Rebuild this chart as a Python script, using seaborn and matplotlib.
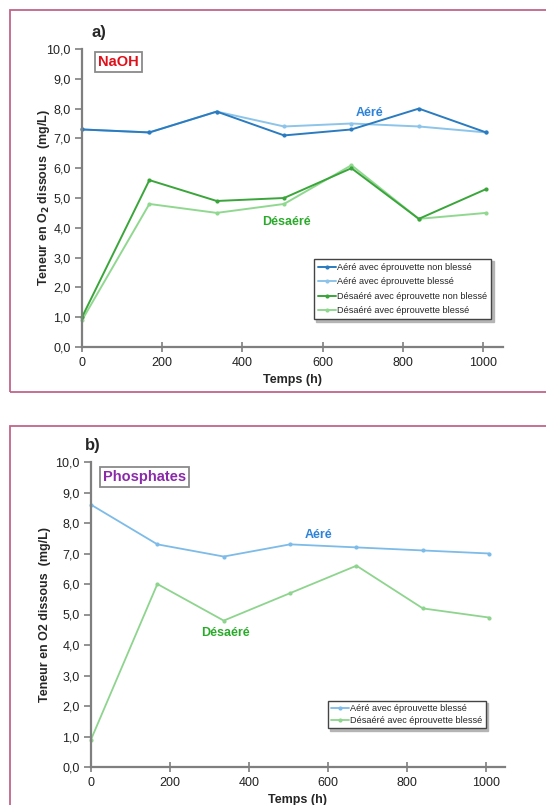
import matplotlib
matplotlib.use("Agg")
import matplotlib.pyplot as plt
import seaborn as sns
import pandas as pd
from matplotlib.patches import Rectangle
from matplotlib.ticker import FuncFormatter, MultipleLocator

sns.set_style("white")
plt.rcParams['font.family'] = ['Liberation Sans', 'DejaVu Sans']

temps = [0, 168, 336, 504, 672, 840, 1008]

# Panel a) NaOH
naoh_aere_non_blesse = [7.3, 7.2, 7.9, 7.1, 7.3, 8.0, 7.2]
naoh_aere_blesse = [7.3, 7.2, 7.9, 7.4, 7.5, 7.4, 7.2]
naoh_desaere_non_blesse = [1.0, 5.6, 4.9, 5.0, 6.0, 4.3, 5.3]
naoh_desaere_blesse = [0.9, 4.8, 4.5, 4.8, 6.1, 4.3, 4.5]

# Panel b) Phosphates
phos_aere_blesse = [8.6, 7.3, 6.9, 7.3, 7.2, 7.1, 7.0]
phos_desaere_blesse = [0.9, 6.0, 4.8, 5.7, 6.6, 5.2, 4.9]

labels_a = ["Aéré avec éprouvette non blessé", "Aéré avec éprouvette blessé",
            "Désaéré avec éprouvette non blessé", "Désaéré avec éprouvette blessé"]
labels_b = ["Aéré avec éprouvette blessé", "Désaéré avec éprouvette blessé"]

colors_a = ["#2a7bbf", "#8cc4ea", "#3aa53a", "#90d890"]
colors_b = ["#7dbbe8", "#8ed48e"]

W, H = 546, 805
fig = plt.figure(figsize=(W / 100, H / 100), dpi=100)

# panel frames
border = "#c0648a"
fig.patches.append(Rectangle((10 / W, 1 - 392 / H), 600 / W, (392 - 10) / H,
                             transform=fig.transFigure, fill=False,
                             edgecolor=border, linewidth=1.3))
fig.patches.append(Rectangle((10 / W, -0.05), 600 / W, 0.05 + (805 - 426) / H,
                             transform=fig.transFigure, fill=False,
                             edgecolor=border, linewidth=1.3))

ax1 = fig.add_axes([82 / W, 1 - 347 / H, (503 - 82) / W, (347 - 49) / H])
ax2 = fig.add_axes([91 / W, 1 - 767 / H, (505 - 91) / W, (767 - 462) / H])

df_a = pd.DataFrame({
    "Temps": temps * 4,
    "val": naoh_aere_non_blesse + naoh_aere_blesse + naoh_desaere_non_blesse + naoh_desaere_blesse,
    "serie": sum([[l] * len(temps) for l in labels_a], []),
})
df_b = pd.DataFrame({
    "Temps": temps * 2,
    "val": phos_aere_blesse + phos_desaere_blesse,
    "serie": sum([[l] * len(temps) for l in labels_b], []),
})

# draw light series first so the dark ones are on top, keep legend order
order_draw_a = [labels_a[1], labels_a[0], labels_a[3], labels_a[2]]
pal_a = dict(zip(labels_a, colors_a))
for lab in order_draw_a:
    sub = df_a[df_a.serie == lab]
    sns.lineplot(data=sub, x="Temps", y="val", ax=ax1, color=pal_a[lab],
                 marker="o", markersize=3, markeredgewidth=0, linewidth=1.4,
                 label=lab, legend=False)

pal_b = dict(zip(labels_b, colors_b))
for lab in labels_b:
    sub = df_b[df_b.serie == lab]
    sns.lineplot(data=sub, x="Temps", y="val", ax=ax2, color=pal_b[lab],
                 marker="o", markersize=3, markeredgewidth=0, linewidth=1.3,
                 label=lab, legend=False)

fmt = FuncFormatter(lambda v, p: f"{v:.1f}".replace(".", ","))
spine_c = "#7f7f7f"
for ax, xr in ((ax1, 1050), (ax2, 1048)):
    ax.set_xlim(0, xr)
    ax.set_ylim(0, 10)
    ax.set_xticks([0, 200, 400, 600, 800, 1000])
    ax.yaxis.set_major_locator(MultipleLocator(1))
    ax.yaxis.set_major_formatter(fmt)
    for s in ("top", "right"):
        ax.spines[s].set_visible(False)
    for s in ("left", "bottom"):
        ax.spines[s].set_color(spine_c)
        ax.spines[s].set_linewidth(1.6)
    ax.tick_params(axis="y", direction="out", length=5, width=1.2, color=spine_c,
                   labelsize=9, pad=3, left=True, labelcolor="#222222")
    ax.tick_params(axis="x", direction="inout", length=7, width=1.2, color=spine_c,
                   labelsize=9, pad=4, bottom=True, labelcolor="#222222")
    ax.set_xlabel("Temps (h)", fontsize=9, fontweight="bold", labelpad=3)
    ax.patch.set_alpha(0)
    for line in ax.lines:
        line.set_clip_on(False)

ax1.set_ylabel("Teneur en O$_\\mathbf{2}$ dissous  (mg/L)", fontsize=9, fontweight="bold")
ax2.set_ylabel("Teneur en O2 dissous  (mg/L)", fontsize=9, fontweight="bold")
ax1.yaxis.set_label_coords((52 - 82) / (503 - 82), 0.5)
ax2.yaxis.set_label_coords((51 - 91) / (505 - 91), 0.5)

# legends
shadow_kw = {"color": "#b0b0b0", "alpha": 0.9}
h1, l1 = ax1.get_legend_handles_labels()
hd = dict(zip(l1, h1))
leg1 = ax1.legend([hd[l] for l in labels_a], labels_a, loc="upper left",
                  bbox_to_anchor=((309 - 82) / (503 - 82), 1 - (254 - 49) / (347 - 49)),
                  fontsize=6.6, frameon=True, fancybox=False, shadow=shadow_kw,
                  borderpad=0.45, labelspacing=0.6, handlelength=2.0, handletextpad=0.1,
                  edgecolor="#444444")
leg1.get_frame().set_linewidth(1.0)

h2, l2 = ax2.get_legend_handles_labels()
leg2 = ax2.legend(h2, l2, loc="upper left",
                  bbox_to_anchor=((323 - 91) / (505 - 91), 1 - (696 - 462) / (767 - 462)),
                  fontsize=6.6, frameon=True, fancybox=False, shadow=shadow_kw,
                  borderpad=0.35, labelspacing=0.35, handlelength=2.0, handletextpad=0.1,
                  edgecolor="#444444")
leg2.get_frame().set_linewidth(1.0)

# panel letters and boxes
fig.text(92 / W, 1 - 32 / H, "a)", fontsize=12, fontweight="bold", va="center", ha="left")
fig.text(85 / W, 1 - 445 / H, "b)", fontsize=12, fontweight="bold", va="center", ha="left")

box_kw = dict(boxstyle="square,pad=0.2", facecolor="white", edgecolor="#8a8a8a", linewidth=1.3)
fig.text(98 / W, 1 - 62 / H, "NaOH", fontsize=10.5, fontweight="bold", color="#e0101a",
         va="center", ha="left", bbox=box_kw)
fig.text(103 / W, 1 - 477 / H, "Phosphates", fontsize=10.5, fontweight="bold", color="#8a2aa8",
         va="center", ha="left", bbox=box_kw)

# annotations
ax1.text(716, 7.85, "Aéré", fontsize=9, fontweight="bold", color="#2b82d8", ha="center", va="center")
ax1.text(510, 4.2, "Désaéré", fontsize=9, fontweight="bold", color="#2aaa2a", ha="center", va="center")
ax2.text(575, 7.6, "Aéré", fontsize=9, fontweight="bold", color="#2b82d8", ha="center", va="center")
ax2.text(340, 4.4, "Désaéré", fontsize=9, fontweight="bold", color="#2aaa2a", ha="center", va="center")

fig.savefig("out.png", dpi=100)
